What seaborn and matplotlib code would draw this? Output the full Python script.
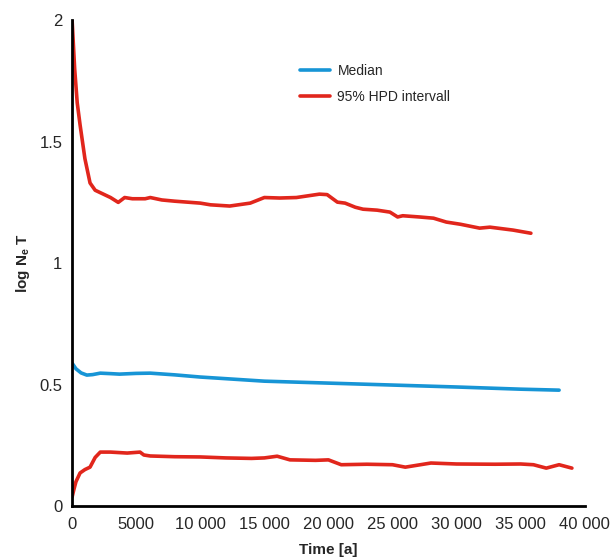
import pandas as pd
import matplotlib
matplotlib.use('Agg')
import matplotlib.pyplot as plt
from matplotlib.ticker import FuncFormatter
import seaborn as sns

# ---- data ----
upper_t = [0, 200, 400, 620, 1000, 1400, 1800, 2200, 3000, 3600, 4100, 4700, 5700,
           6100, 7000, 8000, 10000, 10800, 12300, 13900, 15000, 16200, 17500,
           19300, 19900, 20700, 21300, 22100, 22700, 23800, 24800, 25400, 25800,
           27100, 28200, 29200, 30300, 31800, 32600, 34400, 35800]
upper_v = [2.0, 1.80, 1.66, 1.57, 1.43, 1.33, 1.30, 1.29, 1.27, 1.25, 1.27, 1.265, 1.265,
           1.27, 1.26, 1.255, 1.247, 1.24, 1.235, 1.247, 1.27, 1.268, 1.27,
           1.284, 1.282, 1.251, 1.247, 1.23, 1.222, 1.218, 1.21, 1.19, 1.195,
           1.19, 1.185, 1.169, 1.16, 1.144, 1.148, 1.136, 1.123]

median_t = [0, 300, 700, 1150, 1600, 2200, 3000, 3700, 5000, 6100, 8000, 10000,
            15000, 20000, 25000, 30000, 35000, 38000]
median_v = [0.588, 0.565, 0.548, 0.539, 0.541, 0.547, 0.545, 0.543, 0.546, 0.547, 0.54, 0.531,
            0.514, 0.506, 0.498, 0.49, 0.481, 0.477]

lower_t = [0, 150, 300, 620, 1000, 1400, 1800, 2200, 3000, 4300, 5300, 5600, 6100,
           8000, 10000, 12000, 14000, 15000, 16000, 17000, 19000, 20000, 21000,
           23000, 25000, 26000, 28000, 30000, 33000, 35000, 36000, 37000, 38000, 39000]
lower_v = [0.037, 0.07, 0.10, 0.136, 0.15, 0.16, 0.20, 0.222, 0.222, 0.218, 0.222, 0.21, 0.206,
           0.203, 0.202, 0.198, 0.196, 0.198, 0.205, 0.19, 0.188, 0.19, 0.17,
           0.172, 0.17, 0.16, 0.177, 0.173, 0.172, 0.173, 0.17, 0.156, 0.17, 0.156]

blue = "#1795d6"
red = "#e1261c"

sns.set_style("white")
plt.rcParams['font.family'] = ['Liberation Sans', 'DejaVu Sans']
plt.rcParams['mathtext.fontset'] = 'custom'
plt.rcParams['mathtext.bf'] = 'Liberation Sans:bold'

fig = plt.figure(figsize=(6.11, 5.6), dpi=100)
ax = fig.add_axes([0.118, 0.0964, 0.839, 0.8675])

sns.lineplot(x=median_t, y=median_v, ax=ax, color=blue, lw=2.6, label="Median")
sns.lineplot(x=upper_t, y=upper_v, ax=ax, color=red, lw=2.6, label="95% HPD intervall")
sns.lineplot(x=lower_t, y=lower_v, ax=ax, color=red, lw=2.6)

ax.set_xlim(0, 40000)
ax.set_ylim(0, 2)
ax.set_xticks(range(0, 40001, 5000))
ax.set_yticks([0, 0.5, 1, 1.5, 2])
ax.xaxis.set_major_formatter(FuncFormatter(
    lambda v, p: f"{int(v)}" if v < 10000 else f"{int(v):,}".replace(",", " ")))
ax.yaxis.set_major_formatter(FuncFormatter(lambda v, p: f"{v:g}"))

for s in ["top", "right"]:
    ax.spines[s].set_visible(False)
for s in ["left", "bottom"]:
    ax.spines[s].set_color("black")
    ax.spines[s].set_linewidth(2)

ax.tick_params(axis='x', length=5, width=2, color='black', labelsize=12, pad=3)
ax.tick_params(axis='y', length=0, labelsize=12, pad=7)

ax.set_xlabel("Time [a]", fontsize=11, fontweight='bold', labelpad=8)
ax.set_ylabel(r"log N$_\mathbf{e}$ T", fontsize=11, fontweight='bold', labelpad=5)

ax.legend(loc='upper left', bbox_to_anchor=(0.42, 0.935), frameon=False,
          fontsize=10, handlelength=2.2, handletextpad=0.5, labelspacing=0.85)

fig.savefig("out.png", dpi=100)
